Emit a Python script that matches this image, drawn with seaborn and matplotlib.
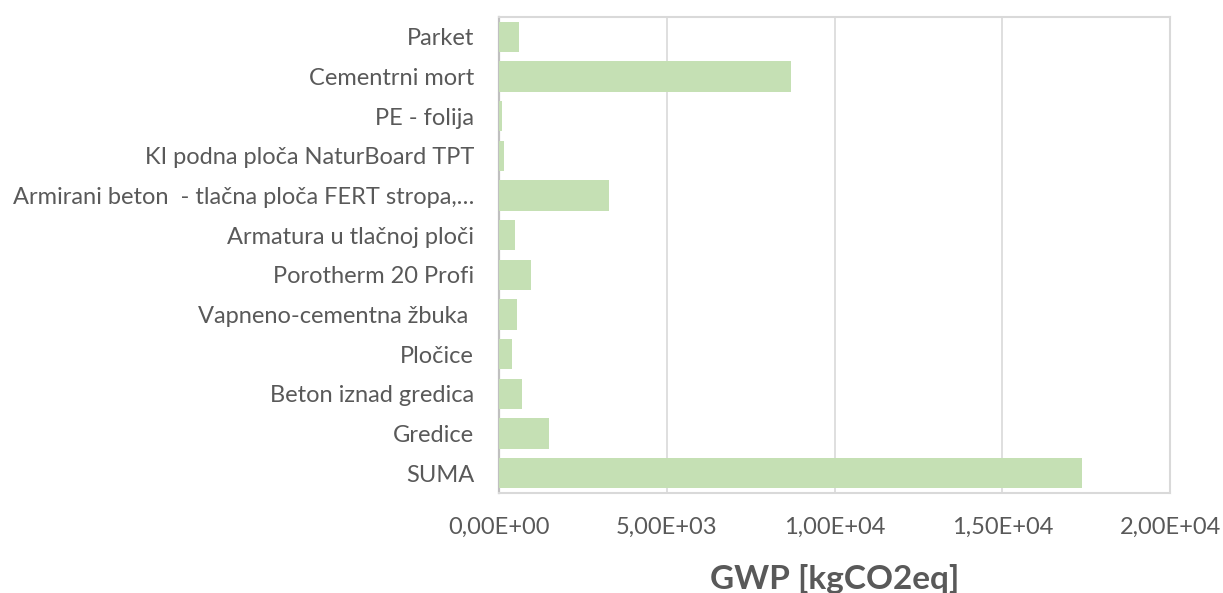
import matplotlib
matplotlib.use("Agg")
import matplotlib.pyplot as plt
import seaborn as sns
import pandas as pd
from matplotlib.ticker import FuncFormatter, MultipleLocator

categories = [
    "Parket",
    "Cementrni mort",
    "PE - folija",
    "KI podna ploča NaturBoard TPT",
    "Armirani beton  - tlačna ploča FERT stropa,…",
    "Armatura u tlačnoj ploči",
    "Porotherm 20 Profi",
    "Vapneno-cementna žbuka ",
    "Pločice",
    "Beton iznad gredica",
    "Gredice",
    "SUMA",
]
gwp = [596, 8690, 80, 140, 3292, 489, 954, 549, 388, 677, 1482, 17367]

df = pd.DataFrame({"Materijal": categories, "GWP": gwp})

sns.set_theme(style="white")
plt.rcParams["font.family"] = ["Lato", "DejaVu Sans"]

fig = plt.figure(figsize=(12.23, 5.93), dpi=100)
ax = fig.add_axes([0.408, 0.1686, 0.5487, 0.8027])

sns.barplot(data=df, x="GWP", y="Materijal", orient="h", color="#C5E0B4",
            saturation=1, width=0.76, ax=ax, zorder=3, linewidth=0)

ax.set_xlim(0, 20000)
ax.xaxis.set_major_locator(MultipleLocator(5000))
ax.xaxis.set_major_formatter(FuncFormatter(lambda v, p: f"{v:.2E}".replace(".", ",")))
ax.grid(axis="x", color="#D9D9D9", linewidth=1.2, zorder=0)
ax.set_axisbelow(True)

for side in ["top", "right", "bottom"]:
    ax.spines[side].set_visible(True)
    ax.spines[side].set_color("#D9D9D9")
    ax.spines[side].set_linewidth(1.5)
ax.spines["left"].set_color("#C0C0C0")
ax.spines["left"].set_linewidth(1.6)
ax.spines["left"].set_zorder(2)

ax.tick_params(axis="both", length=0, labelsize=17, colors="#595959")
ax.tick_params(axis="y", pad=18)
ax.tick_params(axis="x", pad=17)
ax.set_ylabel("")
ax.set_xlabel("GWP [kgCO2eq]", fontsize=24, fontweight="bold", color="#595959", labelpad=19)

fig.savefig("out.png", dpi=100)
